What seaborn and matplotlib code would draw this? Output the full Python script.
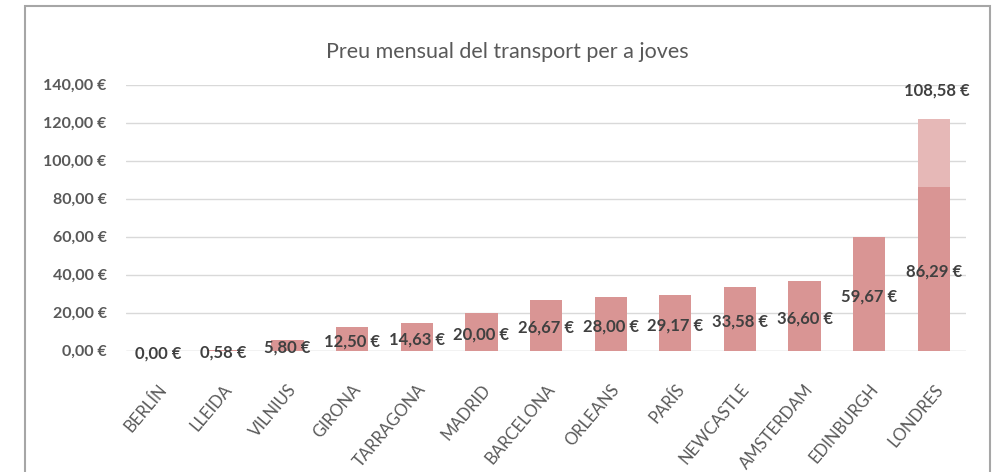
import matplotlib
matplotlib.use("Agg")
import matplotlib.pyplot as plt
import matplotlib.patches as mpatches
import seaborn as sns
import pandas as pd

# Data
ciutats = ["BERLÍN", "LLEIDA", "VILNIUS", "GIRONA", "TARRAGONA", "MADRID", "BARCELONA",
           "ORLEANS", "PARÍS", "NEWCASTLE", "AMSTERDAM", "EDINBURGH", "LONDRES"]
preu = [0.00, 0.58, 5.80, 12.50, 14.63, 20.00, 26.67, 28.00, 29.17, 33.58, 36.60, 59.67, 86.29]
extra = [0, 0, 0, 0, 0, 0, 0, 0, 0, 0, 0, 0, 35.5]   # lighter segment on top of LONDRES
etiqueta_extra = "108,58 €"
yticks = [0, 20, 40, 60, 80, 100, 120, 140]

df = pd.DataFrame({"ciutat": ciutats, "preu": preu, "extra": extra})
df["total"] = df["preu"] + df["extra"]

sns.set_style("white")
plt.rcParams["font.family"] = ["Lato", "DejaVu Sans"]

fig = plt.figure(figsize=(9.95, 4.72), dpi=100)
ax = fig.add_axes([0.1266, 0.257, 0.8444, 0.5636])

# chart border (Excel-like frame, cut at the bottom)
fig.patches.append(mpatches.Rectangle((25 / 995, -0.1), 965 / 995, 1.1 - 6 / 472,
                                      transform=fig.transFigure, fill=False,
                                      edgecolor="#A6A6A6", linewidth=1.5))

sns.barplot(data=df, x="ciutat", y="total", color="#E6B8B7", saturation=1,
            width=0.5, linewidth=0, ax=ax)
sns.barplot(data=df, x="ciutat", y="preu", color="#D99594", saturation=1,
            width=0.5, linewidth=0, ax=ax)

ax.set_ylim(0, 140)
ax.set_xlim(-0.5, len(ciutats) - 0.5)
ax.set_yticks(yticks)
ax.set_yticklabels([f"{v:.2f} €".replace(".", ",") for v in yticks],
                   fontsize=11.5, color="#595959", fontweight="bold")
ax.set_xticks(range(len(ciutats)))
ax.set_xticklabels(ciutats, rotation=50, ha="right", rotation_mode="anchor",
                   fontsize=12, color="#595959")
ax.tick_params(axis="y", length=0, pad=14)
ax.tick_params(axis="x", length=0, pad=22)
ax.set_xlabel("")
ax.set_ylabel("")
for s in ax.spines.values():
    s.set_visible(False)
for y in yticks:
    ax.axhline(y, color="#D9D9D9" if y else "#BFBFBF", linewidth=1, zorder=0)

# value labels, centred on each bar
for i, v in enumerate(preu):
    ax.text(i, v / 2 - 1.3, f"{v:.2f} €".replace(".", ","), ha="center", va="center",
            fontsize=12, fontweight="bold", color="#404040")
ax.text(len(ciutats) - 1 + 0.05, 137, etiqueta_extra, ha="center", va="center",
        fontsize=12, fontweight="bold", color="#404040")

fig.text(0.51, 0.89, "Preu mensual del transport per a joves", ha="center",
         va="center", fontsize=15.5, color="#595959")

fig.savefig("out.png", dpi=100)
